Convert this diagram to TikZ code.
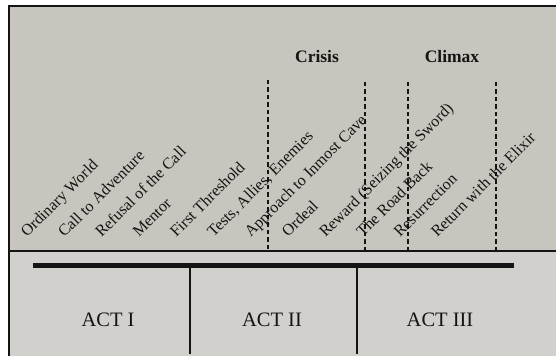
\documentclass[tikz,border=0pt]{standalone}
\usepackage{fontspec}
\setmainfont{Liberation Serif}
\usepackage{xcolor}
\usepackage{tikz}
\usetikzlibrary{calc}

\definecolor{paper}{RGB}{199,197,189}
\definecolor{lowband}{RGB}{209,208,204}
\definecolor{ink}{RGB}{20,20,20}

\begin{document}
\begin{tikzpicture}[x=1pt, y=1pt,
  stage/.style={rotate=45, anchor=base west, inner sep=0pt, text=ink, font=\fontsize{16}{18}\selectfont},
  peak/.style={text=ink, font=\bfseries\fontsize{17.5}{20}\selectfont},
  act/.style={text=ink, font=\fontsize{20.5}{24}\selectfont},
  beat/.style={draw=ink, line width=2.2pt, dash pattern=on 4.5pt off 3pt}]
\useasboundingbox (0,0) rectangle (556,356);
% page
\fill[white] (0,0) rectangle (556,356);
\fill[paper] (9,0) rectangle (556,350);
\fill[lowband] (9,0) rectangle (556,105);
\draw[ink, line width=1.8pt] (9,0) -- (9,350) -- (556,350);

% time line
\coordinate (lineL) at (9,105);
\coordinate (lineR) at (556,105);
\draw[ink, line width=1.6pt] (lineL) -- (lineR);
\coordinate (barL) at (33,91);
\coordinate (barR) at (514,91);
\draw[ink, line width=5pt] (barL) -- (barR);

% acts
\coordinate (split1) at (190,91);
\coordinate (split2) at (357,91);
\draw[ink, line width=1.6pt] (split1) -- (190,2);
\draw[ink, line width=1.6pt] (split2) -- (357,2);
\node (act1) [act] at (108,36) {ACT I};
\node (act2) [act] at (272,36) {ACT II};
\node (act3) [act] at (440,36) {ACT III};

% beats
\coordinate (beat1) at (268,276);
\coordinate (beat2) at (365,274);
\coordinate (beat3) at (408,274);
\coordinate (beat4) at (496,274);
\draw[beat] (beat1) -- (beat1 |- lineL);
\draw[beat] (beat2) -- (beat2 |- lineL);
\draw[beat] (beat3) -- (beat3 |- lineL);
\draw[beat] (beat4) -- (beat4 |- lineL);
\node (crisis) [peak] at (317,299) {Crisis};
\node (climax) [peak] at (452,299) {Climax};

% stages
\node (ordinary) [stage] at (27,118) {Ordinary World};
\node (call) [stage] at (64.3,118) {Call to Adventure};
\node (refusal) [stage] at (101.6,118) {Refusal of the Call};
\node (mentor) [stage] at (138.9,118) {Mentor};
\node (threshold) [stage] at (176.2,118) {First Threshold};
\node (tests) [stage] at (213.5,118) {Tests, Allies, Enemies};
\node (approach) [stage] at (250.8,118) {Approach to Inmost Cave};
\node (ordeal) [stage] at (288.1,118) {Ordeal};
\node (reward) [stage] at (325.4,118) {Reward (Seizing the Sword)};
\node (roadback) [stage] at (362.7,118) {The Road Back};
\node (resurrection) [stage] at (400,118) {Resurrection};
\node (elixir) [stage] at (437.3,118) {Return with the Elixir};
\end{tikzpicture}
\end{document}
